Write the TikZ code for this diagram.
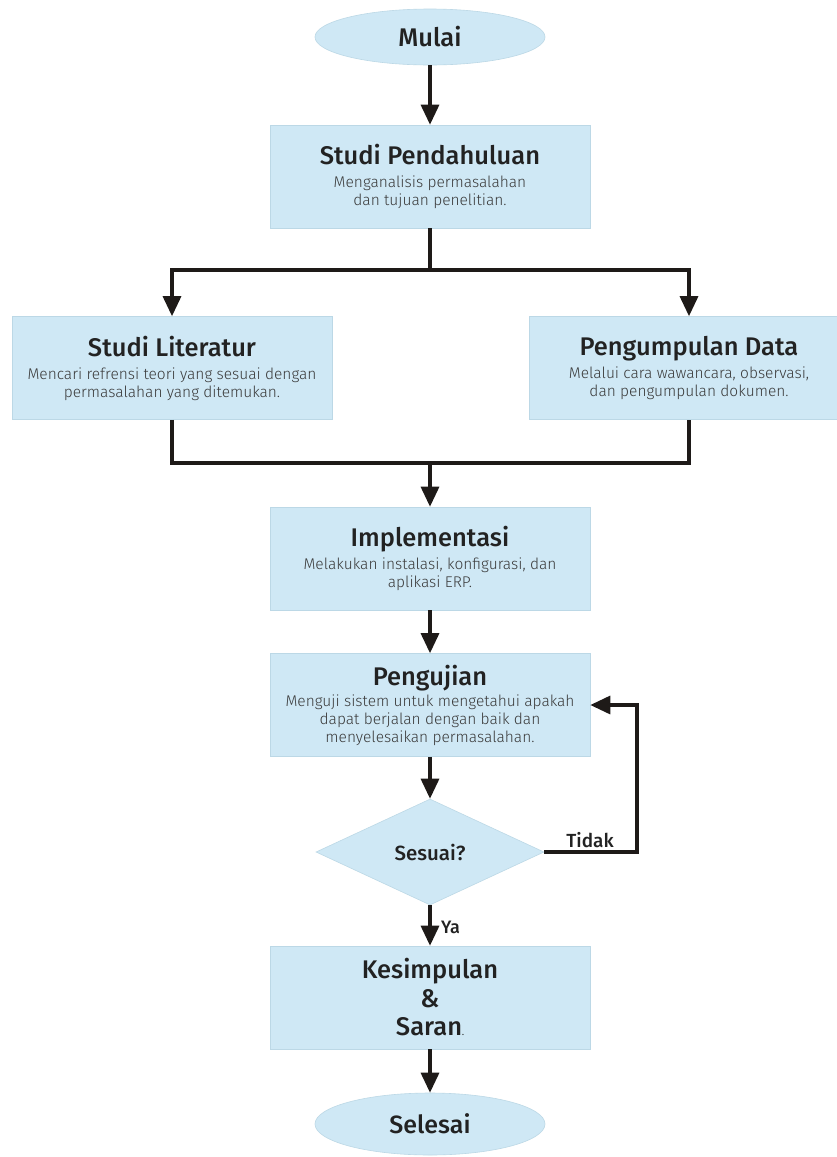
\documentclass[tikz,border=0pt]{standalone}
\usepackage{fontspec}
\setmainfont{Fira Sans}
\newfontfamily\tf{Fira Sans Medium}
\newfontfamily\df{Fira Sans Light}
\usetikzlibrary{shapes.geometric,arrows.meta}
\definecolor{boxblue}{HTML}{CFE8F5}
\definecolor{boxedge}{HTML}{BCD8E6}
\definecolor{txt}{HTML}{222222}
\definecolor{desc}{HTML}{3A3A3A}
\definecolor{ln}{HTML}{1E1A18}
\begin{document}
\begin{tikzpicture}[x=1pt,y=-1pt,
  box/.style={fill=boxblue,draw=boxedge,line width=0.6pt,minimum width=320pt,minimum height=103pt,inner sep=0pt,align=center,text=txt,font=\df\fontsize{15.5}{18}\selectfont},
  term/.style={ellipse,fill=boxblue,draw=boxedge,line width=0.6pt,minimum width=230pt,minimum height=56pt,inner sep=0pt,text=txt,font=\tf\fontsize{25.5}{30}\selectfont},
  dec/.style={diamond,fill=boxblue,draw=boxedge,line width=0.6pt,minimum width=228pt,minimum height=106pt,inner sep=0pt,text=txt,font=\tf\fontsize{20.5}{24}\selectfont},
  conn/.style={draw=ln,line width=3.2pt},
  arr/.style={conn,-{Triangle[length=20pt,width=18pt]}},
  lbl/.style={text=txt,font=\tf\fontsize{19}{22}\selectfont,inner sep=0pt}
]
\newcommand{\ttl}[1]{{\tf\color{txt}\fontsize{25.5}{30}\selectfont #1}}
\newcommand{\dsc}[1]{{\color{desc}#1}}
\path[use as bounding box,fill=white] (0,0) rectangle (837,1157);

\node[term] (mulai) at (430,37) {Mulai};
\node[box] (sp) at (430,176.5) {\ttl{Studi Pendahuluan}\\[5pt]\dsc{Menganalisis permasalahan}\\\dsc{dan tujuan penelitian.}};
\node[box] (sl) at (172,368) {\ttl{Studi Literatur}\\[5pt]\dsc{Mencari refrensi teori yang sesuai dengan}\\\dsc{permasalahan yang ditemukan.}};
\node[box] (pd) at (689,368) {\ttl{Pengumpulan Data}\\[5pt]\dsc{Melalui cara wawancara, observasi,}\\\dsc{dan pengumpulan dokumen.}};
\node[box] (im) at (430,558.5) {\ttl{Implementasi}\\[5pt]\dsc{Melakukan instalasi, konfigurasi, dan}\\\dsc{aplikasi ERP.}};
\node[box] (pe) at (430,705) {\ttl{Pengujian}\\[3pt]\dsc{Menguji sistem untuk mengetahui apakah}\\\dsc{dapat berjalan dengan baik dan}\\\dsc{menyelesaikan permasalahan.}};
\node[dec] (dia) at (430,852) {Sesuai?};
\node[box,font=\tf\fontsize{25.5}{28.5}\selectfont] (ks) at (430,997.5) {Kesimpulan\\\&\\Saran{\fontsize{8}{8}\selectfont.}};
\node[term,font=\tf\fontsize{25}{30}\selectfont,minimum height=62pt] (sel) at (430,1124) {Selesai};

\coordinate (j1) at (430,270);
\coordinate (j2) at (430,463);
\coordinate (tk) at (637,852);

\draw[arr] (mulai.south) -- (sp.north);
\draw[conn] (sp.south) -- (j1);
\draw[arr] (j1) -| (sl.north);
\draw[arr] (j1) -| (pd.north);
\draw[conn] (sl.south) |- (j2) -| (pd.south);
\draw[arr] (j2) -- (im.north);
\draw[arr] (im.south) -- (pe.north);
\draw[arr] (pe.south) -- (dia.north);
\draw[arr] (dia.east) -- (tk) |- (pe.east);
\node[lbl,anchor=base] (tidak) at (590,847) {Tidak};
\draw[arr] (dia.south) -- (ks.north);
\node[lbl,anchor=west,font=\tf\fontsize{18}{21}\selectfont] (ya) at (441,927) {Ya};
\draw[arr] (ks.south) -- (sel.north);
\end{tikzpicture}
\end{document}
